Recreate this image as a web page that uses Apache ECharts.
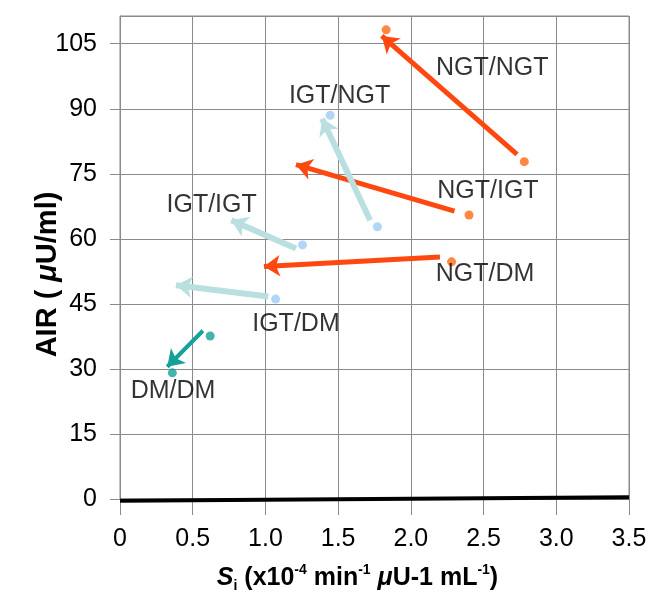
<!DOCTYPE html>
<html>
<head>
<meta charset="utf-8">
<script src="https://cdn.jsdelivr.net/npm/echarts@6/dist/echarts.min.js"></script>
<style>
  html, body { margin: 0; padding: 0; background: #fff; }
  #chart { width: 656px; height: 594px; }
</style>
</head>
<body>
<div id="chart"></div>
<script>
// tick labels
const xTicks = ['0', '0.5', '1.0', '1.5', '2.0', '2.5', '3.0', '3.5'];
const yTicks = ['0', '15', '30', '45', '60', '75', '90', '105'];

// arrows: [start, end] in (Si, AIR)
const ngtArrows = [
  [[2.73, 79.5], [1.80, 106.8]],
  [[2.30, 66.4], [1.21, 77.1]],
  [[2.20, 55.8], [0.99, 53.6]]
];
const igtArrows = [
  [[1.72, 64.3], [1.39, 87.7]],
  [[1.21, 57.8], [0.765, 64.3]],
  [[1.02, 46.7], [0.385, 49.3]]
];
const dmArrows = [
  [[0.57, 38.8], [0.325, 30.5]]
];

// dots
const ngtDots = [[2.78, 77.8], [1.83, 108.2], [2.40, 65.5], [2.28, 54.7]];
const igtDots = [[1.77, 62.8], [1.445, 88.5], [1.255, 58.6], [1.07, 46.1]];
const dmDots = [[0.62, 37.6], [0.36, 29.1]];

// group names and where they sit
const groupNames = ['NGT/NGT', 'IGT/NGT', 'NGT/IGT', 'IGT/IGT', 'NGT/DM', 'IGT/DM', 'DM/DM'];
const groupAt = [[2.56, 99.4], [1.51, 93.0], [2.53, 71.0], [0.63, 67.7], [2.51, 51.8], [1.21, 40.4], [0.365, 24.9]];

// baseline
const baseLine = [[0, -0.4], [3.5, 0.4]];

const font = '"Liberation Sans", Arial, sans-serif';
const chart = echarts.init(document.getElementById('chart'));

function arrowSeries(list, color, width) {
  return {
    type: 'lines',
    coordinateSystem: 'cartesian2d',
    symbol: ['none', 'arrow'],
    symbolSize: 16,
    lineStyle: { color: color, width: width, opacity: 1, curveness: 0 },
    data: list.map(a => ({ coords: a })),
    z: 3
  };
}

function dotSeries(list, color) {
  return {
    type: 'scatter',
    symbolSize: 9,
    itemStyle: { color: color },
    data: list,
    z: 4
  };
}

const option = {
  animation: false,
  grid: {
    left: 120, right: 27, top: 16, bottom: 95,
    outerBoundsMode: 'none',
    containLabel: false,
    show: true, borderColor: '#8a8a8a', borderWidth: 1
  },
  xAxis: {
    type: 'value',
    min: 0, max: 3.5, interval: 0.5,
    name: '{s|S}{sub|i} (x10{sup|-4} min{sup|-1} {i|μ}U-1 mL{sup|-1})',
    nameLocation: 'middle',
    nameGap: 64,
    nameTextStyle: {
      fontFamily: font, fontSize: 25, fontWeight: 'bold', color: '#000',
      padding: [0, 34, 0, 0],
      rich: {
        s: { fontFamily: font, fontSize: 25, fontWeight: 'bold', fontStyle: 'italic', color: '#000', lineHeight: 30 },
        sub: { fontFamily: font, fontSize: 14, fontWeight: 'bold', color: '#000', verticalAlign: 'bottom', lineHeight: 30 },
        sup: { fontFamily: font, fontSize: 14, fontWeight: 'bold', color: '#000', verticalAlign: 'top', lineHeight: 30 },
        i: { fontFamily: font, fontSize: 25, fontWeight: 'bold', fontStyle: 'italic', color: '#000', lineHeight: 30 }
      }
    },
    axisLine: { onZero: false, lineStyle: { color: '#8a8a8a', width: 1 } },
    axisTick: { show: true, length: 16, lineStyle: { color: '#8a8a8a' } },
    axisLabel: {
      margin: 28, fontFamily: font, fontSize: 25, color: '#000',
      formatter: v => xTicks[Math.round(v / 0.5)]
    },
    splitLine: { show: true, lineStyle: { color: '#8a8a8a', width: 1 } }
  },
  yAxis: {
    type: 'value',
    min: 0, max: 111.4, interval: 15,
    name: 'AIR ( {i|μ}U/ml)',
    nameLocation: 'middle',
    nameMoveOverlap: false,
    nameGap: 58,
    nameTextStyle: {
      fontFamily: font, fontSize: 29, fontWeight: 'bold', color: '#000',
      padding: [0, 34, 0, 0],
      rich: {
        i: { fontFamily: font, fontSize: 29, fontWeight: 'bold', fontStyle: 'italic', color: '#000' }
      }
    },
    axisLine: { lineStyle: { color: '#8a8a8a', width: 1 } },
    axisTick: { show: true, length: 10, lineStyle: { color: '#8a8a8a' } },
    axisLabel: {
      margin: 23, fontFamily: font, fontSize: 25, color: '#000',
      showMaxLabel: false,
      formatter: v => yTicks[Math.round(v / 15)]
    },
    splitLine: { show: true, lineStyle: { color: '#8a8a8a', width: 1 } }
  },
  series: [
    {
      type: 'line',
      data: baseLine,
      symbol: 'none',
      clip: false,
      lineStyle: { color: '#000', width: 4 },
      z: 2
    },
    arrowSeries(ngtArrows, '#ff4810', 5),
    arrowSeries(igtArrows, '#b9dfe0', 6),
    arrowSeries(dmArrows, '#16a09a', 4),
    dotSeries(ngtDots, '#ff6a14'),
    dotSeries(igtDots, '#9fcbf6'),
    dotSeries(dmDots, '#16a09a'),
    {
      type: 'scatter',
      symbolSize: 0,
      itemStyle: { color: 'rgba(0,0,0,0)' },
      data: groupNames.map((n, i) => ({ name: n, value: groupAt[i] })),
      label: {
        show: true, position: [0, 0], align: 'center', verticalAlign: 'middle',
        formatter: '{b}', fontFamily: font, fontSize: 25, color: '#000',
        textBorderWidth: 0
      },
      labelLayout: { hideOverlap: false },
      z: 5
    }
  ]
};

chart.setOption(option);
</script>
</body>
</html>
